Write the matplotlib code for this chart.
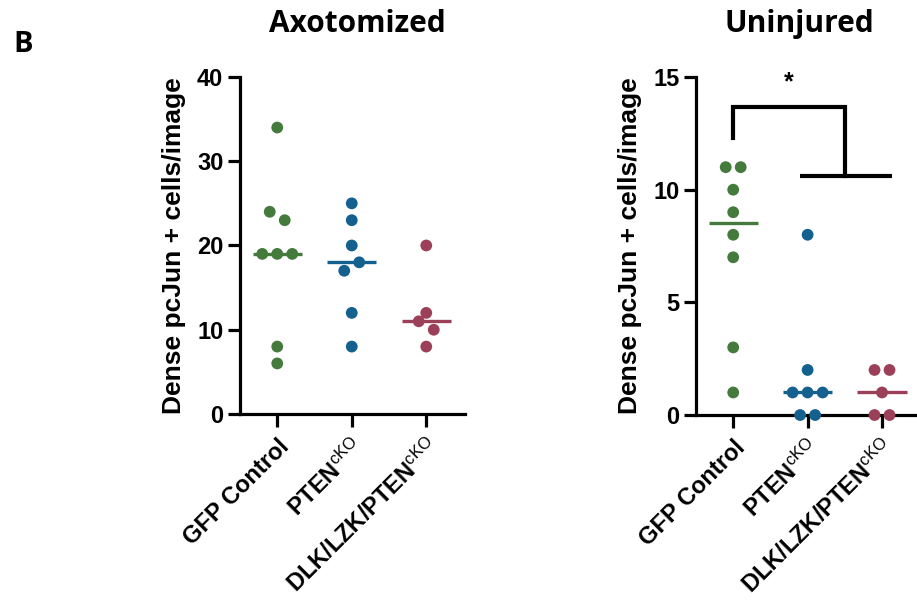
import matplotlib

matplotlib.use("Agg")

import matplotlib.pyplot as plt
import numpy as np

plt.rcParams["font.family"] = ["Liberation Sans", "DejaVu Sans"]
plt.rcParams["mathtext.fontset"] = "custom"
plt.rcParams["mathtext.rm"] = "Liberation Sans"
plt.rcParams["mathtext.it"] = "Liberation Sans:italic"
plt.rcParams["mathtext.bf"] = "Liberation Sans:bold"

groups = ["GFP Control", "PTEN$^{\\mathrm{cKO}}$", "DLK/LZK/PTEN$^{\\mathrm{cKO}}$"]
colors = ["#447a3c", "#14608f", "#9c4059"]

# values in entry order (order decides left/right inside a swarm row)
axot_gfp = [34, 24, 23, 19, 19, 19, 8, 6]
axot_pten = [25, 23, 20, 17, 18, 12, 8]
axot_dlk = [20, 12, 11, 10, 8]

unin_gfp = [11, 11, 10, 9, 8, 7, 3, 1]
unin_pten = [8, 2, 1, 1, 1, 0, 0]
unin_dlk = [2, 2, 1, 0, 0]

axot_ticks = [0, 10, 20, 30, 40]
unin_ticks = [0, 5, 10, 15]

DOT_PX = 12.0   # rows closer than this (px) are merged
STEP_PX = 15.0  # horizontal spacing inside a row (px)


def swarm_offsets(values, px_per_y, px_per_x):
    vals = np.asarray(values, dtype=float)
    order = np.argsort(vals, kind="stable")
    rows = []
    for idx in order:
        if rows and (vals[idx] - vals[rows[-1][0]]) * px_per_y < DOT_PX:
            rows[-1].append(idx)
        else:
            rows.append([idx])
    offsets = np.zeros(len(vals))
    for row in rows:
        row = sorted(row)
        n = len(row)
        for k, idx in enumerate(row):
            offsets[idx] = (k - (n - 1) / 2) * STEP_PX / px_per_x
    return offsets


def draw_panel(ax, data, ymax, yticks, xmax):
    ax.set_xlim(-0.5, xmax)
    ax.set_ylim(0, ymax)
    fig = ax.figure
    bbox = ax.get_position()
    px_per_y = bbox.height * fig.get_figheight() * fig.dpi / ymax
    px_per_x = bbox.width * fig.get_figwidth() * fig.dpi / (xmax + 0.5)

    for i, (vals, col) in enumerate(zip(data, colors)):
        offs = swarm_offsets(vals, px_per_y, px_per_x)
        ax.scatter(i + offs, vals, s=72, color=col, edgecolors="none", zorder=4, clip_on=False)
        med = np.median(vals)
        ax.plot([i - 0.33, i + 0.33], [med, med], color=col, lw=2.4, zorder=3, clip_on=False,
                solid_capstyle="butt")

    for side in ("top", "right"):
        ax.spines[side].set_visible(False)
    for side in ("left", "bottom"):
        ax.spines[side].set_linewidth(2.3)
        ax.spines[side].set_capstyle("projecting")
    ax.set_yticks(yticks)
    ax.set_xticks(range(len(groups)))
    ax.set_xticklabels(groups, rotation=45, ha="right", va="top", rotation_mode="anchor")
    ax.tick_params(axis="both", width=2.3, length=9, labelsize=17, direction="out")
    ax.tick_params(axis="x", pad=6)
    ax.tick_params(axis="y", pad=3)
    for lbl in ax.get_xticklabels() + ax.get_yticklabels():
        lbl.set_fontweight("bold")
    ax.set_ylabel("Dense pcJun + cells/image", fontsize=19, fontweight="bold", labelpad=8)


fig = plt.figure(figsize=(9.17, 6.08), dpi=100)
ax1 = fig.add_axes([0.2617, 0.3191, 0.2454, 0.5543])
ax2 = fig.add_axes([0.7590, 0.3174, 0.2410, 0.5559])

draw_panel(ax1, [axot_gfp, axot_pten, axot_dlk], 40, axot_ticks, 2.52)
draw_panel(ax2, [unin_gfp, unin_pten, unin_dlk], 15, unin_ticks, 2.47)

# significance bracket: GFP vs. the two knockouts
bar_top, bar_left_end, bar_low = 13.65, 12.3, 10.6
join_x = 1.5
ax2.plot([0, 0, join_x, join_x], [bar_left_end, bar_top, bar_top, bar_low],
         color="black", lw=3, clip_on=False, solid_joinstyle="miter", zorder=5)
ax2.plot([0.9, 2.13], [bar_low, bar_low], color="black", lw=3, clip_on=False, zorder=5,
         solid_capstyle="butt")
ax2.text(join_x / 2, 14.75, "*", ha="center", va="center", fontsize=18, fontweight="bold")

title_font = ["Open Sans", "DejaVu Sans"]
fig.text(357 / 917, 1 - 24 / 608, "Axotomized", ha="center", va="center",
         fontsize=21.5, fontweight="bold", family=title_font)
fig.text(799 / 917, 1 - 24 / 608, "Uninjured", ha="center", va="center",
         fontsize=21.5, fontweight="bold", family=title_font)
fig.text(23 / 917, 1 - 44 / 608, "B", ha="center", va="center",
         fontsize=21, fontweight="bold", family=title_font)

fig.savefig("out.png", dpi=100, facecolor="white")
